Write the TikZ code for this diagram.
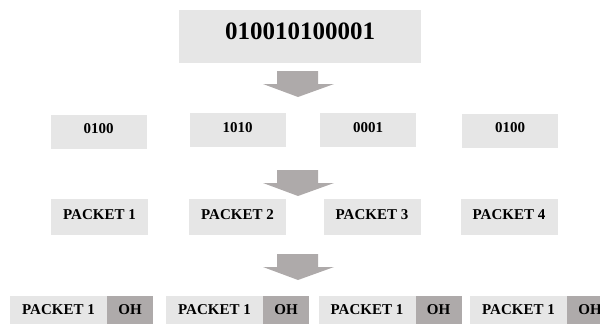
\documentclass[tikz,border=0pt]{standalone}
\usepackage{fontspec}
\setmainfont{Liberation Serif}
\usetikzlibrary{positioning}
\definecolor{boxgray}{RGB}{230,230,230}
\definecolor{ohgray}{RGB}{174,170,170}
\begin{document}
\begin{tikzpicture}
		[x=1pt, y=-1pt, font=\bfseries,
		every node/.style={fill=boxgray, inner sep=0pt, outer sep=0pt,
			rectangle, align=center},
		bits/.style={minimum width=96pt, minimum height=34pt, text height=10pt, text depth=6pt,
			font=\bfseries\fontsize{15}{18}\selectfont},
		packet/.style={minimum width=97pt, minimum height=36pt, text height=10pt, text depth=6pt,
			font=\bfseries\fontsize{15}{18}\selectfont},
		framed/.style={minimum width=97pt, minimum height=32pt, text height=10pt, text depth=5pt,
			font=\bfseries\fontsize{15}{18}\selectfont},
		oh/.style={framed, fill=ohgray, minimum width=46pt},
		pics/downarrow/.style={code={
			\fill[ohgray] (-21,0) -- (20,0) -- (20,13) -- (36,13) -- (0,26)
				-- (-35,13) -- (-21,13) -- cycle;}},
		]
		\useasboundingbox (0,0) rectangle (600,324);
		\clip (0,0) rectangle (600,324);
		
		% the whole message
		\node[minimum width=242pt, minimum height=53pt, text height=17pt, text depth=12pt,
			font=\bfseries\fontsize{25}{30}\selectfont] (msg) at (300,36.5) {010010100001};
		\pic at (298,71) {downarrow};
		
		% split into pieces
		\node[bits] (b1) at (98.5,131.5) {0100};
		\node[bits] (b2) at (237.5,130) {1010};
		\node[bits] (b3) at (368,130) {0001};
		\node[bits] (b4) at (510,130.5) {0100};
		\pic at (298,170) {downarrow};
		
		% packets
		\node[packet] (p1) at (99.5,217) {PACKET 1};
		\node[packet] (p2) at (237.5,217) {PACKET 2};
		\node[packet] (p3) at (372,217) {PACKET 3};
		\node[packet] (p4) at (509,217) {PACKET 4};
		\pic at (298,254) {downarrow};
		
		% packets with overhead
		\node[framed] (f1) at (58.5,312) {PACKET 1};
		\node[oh, right=0pt of f1] (o1) {OH};
		\node[framed] (f2) at (214.5,312) {PACKET 1};
		\node[oh, right=0pt of f2] (o2) {OH};
		\node[framed] (f3) at (367,312) {PACKET 1};
		\node[oh, right=0pt of f3] (o3) {OH};
		\node[framed] (f4) at (518.5,312) {PACKET 1};
		\node[oh, right=0pt of f4] (o4) {OH};
		
	\end{tikzpicture}
\end{document}
